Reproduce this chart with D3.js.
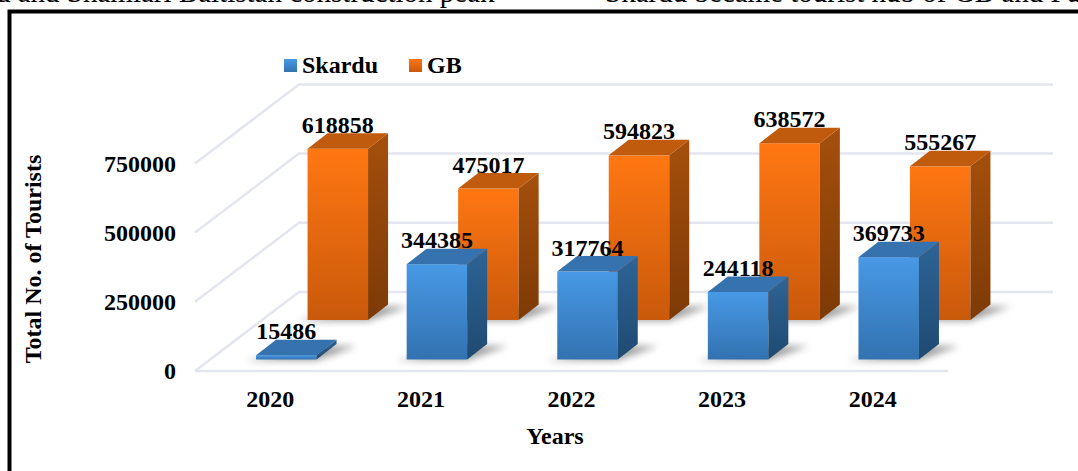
<!DOCTYPE html>
<html>
<head>
<meta charset="utf-8">
<script src="https://cdn.jsdelivr.net/npm/d3@7"></script>
<style>
  html, body { margin: 0; padding: 0; background: #fff; overflow: hidden; }
  text { font-family: "Liberation Serif", serif; font-weight: bold; fill: #000; }
</style>
</head>
<body>
<div id="chart"></div>
<script>
// values
const years = ["2020", "2021", "2022", "2023", "2024"];
const skardu = [15486, 344385, 317764, 244118, 369733];
const gb = [618858, 475017, 594823, 638572, 555267];
const yTicks = [0, 250000, 500000, 750000];

const width = 1078;
const height = 471;

const svg = d3.select("#chart").append("svg").attr("width", width).attr("height", height);
const defs = svg.append("defs");

// front plane of the 3d box, the back wall is shifted by depth
const floorY = 371;
const depth = { x: 104, y: -79 };
const barDepth = { x: 20, y: -15.5 };
const row = { skardu: { x: 16, y: -11.5 }, gb: { x: 67.5, y: -51 } };
const barW = 60.5;

const x = d3.scaleBand().domain(years).range([195, 948]);
const y = d3.scaleLinear().domain([0, 750000]).range([floorY, floorY - 207.6]);

function gradient(id, top, bottom) {
  const g = defs.append("linearGradient").attr("id", id).attr("x1", 0).attr("y1", 0).attr("x2", 0).attr("y2", 1);
  g.append("stop").attr("offset", "0%").attr("stop-color", top);
  g.append("stop").attr("offset", "100%").attr("stop-color", bottom);
}
gradient("blueFront", "#4899e6", "#3272b0");
gradient("blueSide", "#2d6496", "#1f4a71");
gradient("orangeFront", "#ff7712", "#c9590b");
gradient("orangeSide", "#a54f0c", "#7d3a06");
defs.append("filter").attr("id", "blur")
  .attr("x", "-30%").attr("y", "-80%").attr("width", "160%").attr("height", "260%")
  .append("feGaussianBlur").attr("stdDeviation", 3.5);

// top strip of the page the chart was cut from
svg.append("text").attr("x", -4).attr("y", 2).style("font-weight", "normal").style("font-size", "29px")
  .text("d and Shamlari Baltistan construction peak");
svg.append("text").attr("x", 605).attr("y", 2).style("font-weight", "normal").style("font-size", "29px")
  .text("Skardu became tourist hub of GB and Pu");

// frame
svg.append("path").attr("d", `M9.5,471V11.5H${width}`).attr("fill", "none").attr("stroke", "#000").attr("stroke-width", 4);

// grid: side wall + back wall, then the front floor line
const grid = svg.append("g").attr("fill", "none").attr("stroke", "#e3e6ee").attr("stroke-width", 2.5);
grid.selectAll("path.wall").data(yTicks).join("path").attr("class", "wall")
  .attr("d", (d) => `M195,${y(d)}L${195 + depth.x},${y(d) + depth.y}H1053`);
grid.append("path").attr("d", `M195,${floorY}H948`);

// y tick labels via axis
const yAxis = svg.append("g").attr("transform", "translate(176,0)")
  .call(d3.axisLeft(y).tickValues(yTicks).tickSize(0).tickPadding(0).tickFormat((d) => d));
yAxis.select(".domain").remove();
yAxis.selectAll("text").style("font-size", "24px").style("font-family", '"Liberation Serif", serif');

// x tick labels via axis
const xAxis = svg.append("g").attr("transform", "translate(0,390)")
  .call(d3.axisBottom(x).tickSize(0).tickPadding(0));
xAxis.select(".domain").remove();
xAxis.selectAll("text").style("font-size", "24px").style("font-family", '"Liberation Serif", serif');

// draw a box for one value
function box(g, d, i, off, fill) {
  const x0 = x(years[i]) + x.bandwidth() / 2 + off.x - barW / 2;
  const base = floorY + off.y;
  const h = floorY - y(d);
  const top = base - h;
  const dx = barDepth.x, dy = barDepth.y;
  // soft shadow falling back and to the right of the base
  g.append("polygon")
    .attr("points", [[x0 - 10, base + 1], [x0 + barW, base + 1], [x0 + barW + dx + 20, base + dy + 2], [x0 + barW, base + dy + 2]].join(" "))
    .attr("fill", "#777").attr("opacity", 0.7).attr("filter", "url(#blur)");
  g.append("rect").attr("x", x0).attr("y", top).attr("width", barW).attr("height", h).attr("fill", `url(#${fill}Front)`);
  g.append("polygon").attr("points", [[x0 + barW, top], [x0 + barW + dx, top + dy], [x0 + barW + dx, base + dy], [x0 + barW, base]].join(" "))
    .attr("fill", `url(#${fill}Side)`);
  g.append("polygon").attr("points", [[x0, top], [x0 + dx, top + dy], [x0 + barW + dx, top + dy], [x0 + barW, top]].join(" "))
    .attr("fill", fill === "blue" ? "#3672ad" : "#c05a0c");
  return { cx: x0 + barW / 2, top };
}

const marks = svg.append("g");
const labels = [];
gb.forEach((d, i) => labels.push({ v: d, ...box(marks.append("g"), d, i, row.gb, "orange") }));
skardu.forEach((d, i) => labels.push({ v: d, ...box(marks.append("g"), d, i, row.skardu, "blue") }));

svg.append("g").selectAll("text").data(labels).join("text")
  .attr("x", (d) => d.cx)
  .attr("y", (d) => d.top - 16)
  .attr("text-anchor", "middle")
  .style("font-size", "24px")
  .text((d) => d.v);

// axis titles
svg.append("text").attr("transform", "translate(41,259) rotate(-90)").attr("text-anchor", "middle").style("font-size", "24px").text("Total No. of Tourists");
svg.append("text").attr("x", 555).attr("y", 444).attr("text-anchor", "middle").style("font-size", "24px").text("Years");

// legend
const legend = svg.append("g");
[["Skardu", "blue", 284, 302], ["GB", "orange", 409, 427]].forEach(([name, fill, bx, tx]) => {
  legend.append("rect").attr("x", bx).attr("y", 59).attr("width", 13).attr("height", 13).attr("fill", `url(#${fill}Front)`);
  legend.append("text").attr("x", tx).attr("y", 73).style("font-size", "24px").text(name);
});
</script>
</body>
</html>
